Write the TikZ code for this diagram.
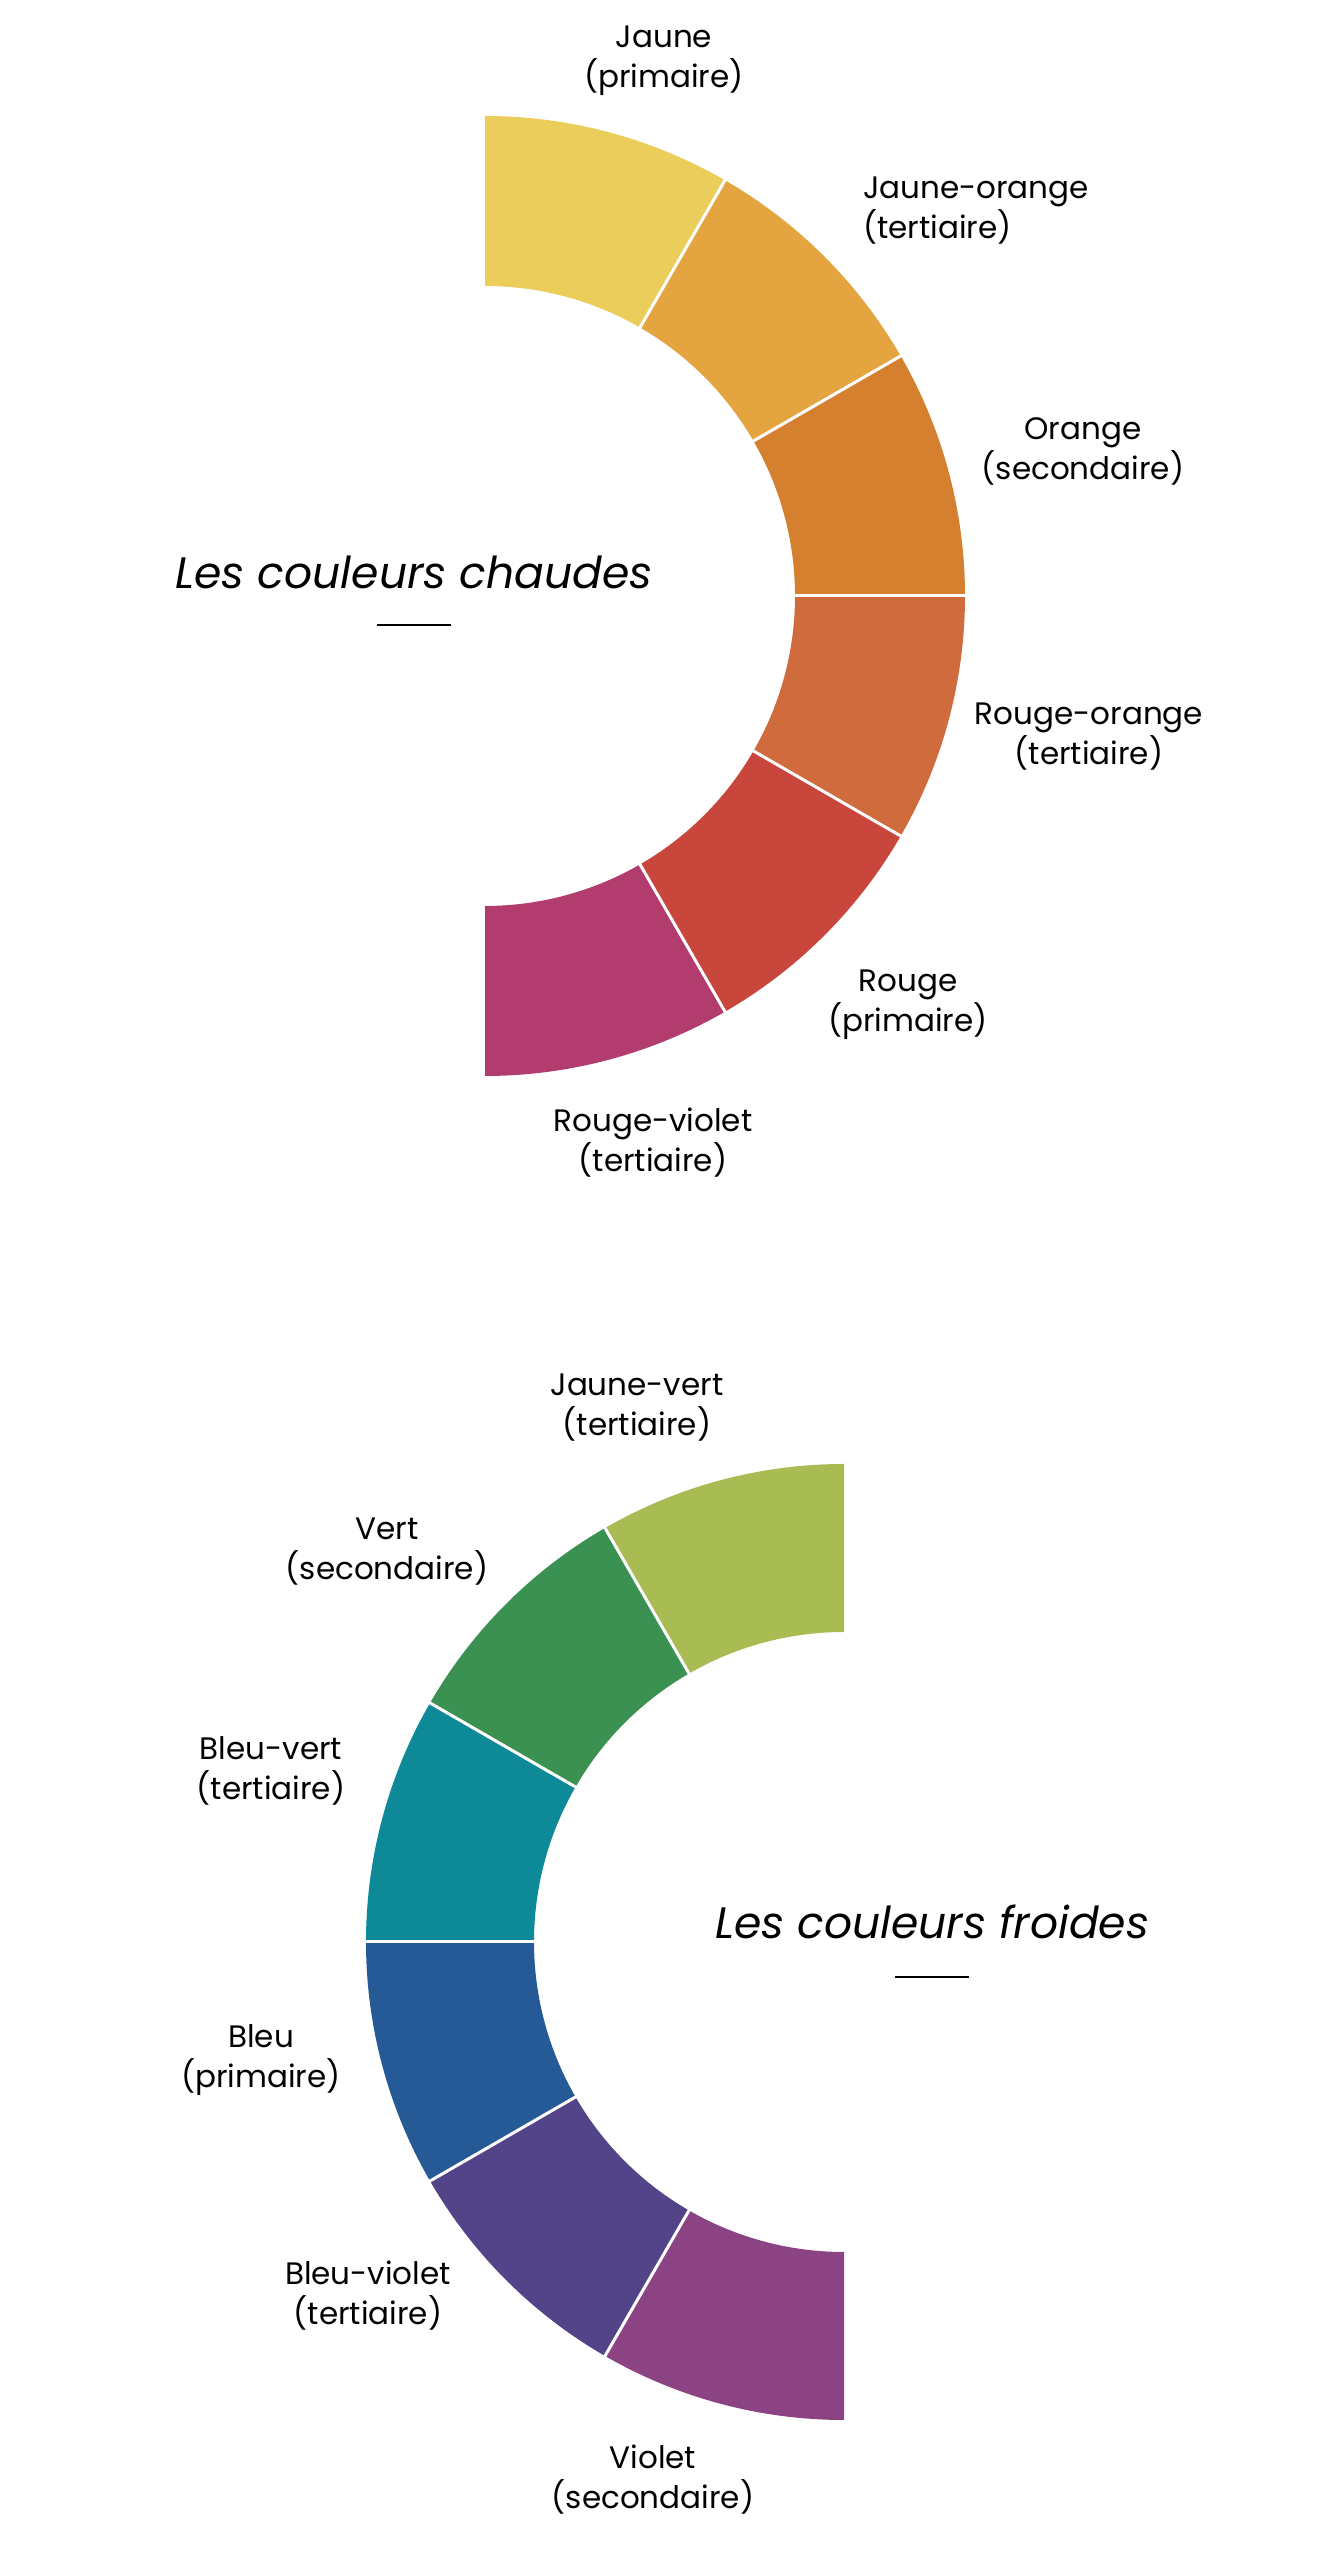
\documentclass[tikz,border=0pt]{standalone}
\usepackage{fontspec}
\setmainfont{Poppins}

\definecolor{jaune}{HTML}{EBCD5C}
\definecolor{jauneorange}{HTML}{E4A541}
\definecolor{orange}{HTML}{D5802E}
\definecolor{rougeorange}{HTML}{D06B3D}
\definecolor{rouge}{HTML}{C9463C}
\definecolor{rougeviolet}{HTML}{B23C6D}
\definecolor{jaunevert}{HTML}{A9BC54}
\definecolor{vert}{HTML}{3A9152}
\definecolor{bleuvert}{HTML}{0E8997}
\definecolor{bleu}{HTML}{265A97}
\definecolor{bleuviolet}{HTML}{534389}
\definecolor{violet}{HTML}{8C4383}

\begin{document}
\begin{tikzpicture}[x=1pt, y=1pt,
    etiquette/.style={align=center, font=\fontsize{31}{40}\selectfont, inner sep=0pt},
    titre/.style={anchor=base, font=\fontsize{44}{50}\selectfont\itshape, inner sep=0pt},
    trait/.style={black, line width=2.5pt}]
    \useasboundingbox[fill=white] (0,0) rectangle (1344,2560);

    % centres des deux demi-cercles
    \coordinate (chaud) at (485,1964);
    \coordinate (froid) at (844,618);

    % couleurs chaudes
    \foreach \a/\c in {90/jaune, 60/jauneorange, 30/orange, 0/rougeorange, -30/rouge, -60/rougeviolet}
      \fill[\c, shift={(chaud)}] (\a:480) arc[start angle=\a, end angle=\a-30, radius=480]
        -- (\a-30:310) arc[start angle=\a-30, end angle=\a, radius=310] -- cycle;
    \foreach \a in {60,30,0,-30,-60}
      \draw[white, line width=3pt, shift={(chaud)}] (\a:308) -- (\a:482);

    % couleurs froides
    \foreach \a/\c in {90/jaunevert, 120/vert, 150/bleuvert, 180/bleu, 210/bleuviolet, 240/violet}
      \fill[\c, shift={(froid)}] (\a:478) arc[start angle=\a, end angle=\a+30, radius=478]
        -- (\a+30:310) arc[start angle=\a+30, end angle=\a, radius=310] -- cycle;
    \foreach \a in {120,150,180,210,240}
      \draw[white, line width=3pt, shift={(froid)}] (\a:308) -- (\a:480);

    % etiquettes
    \node[etiquette] (jaune) at (664,2499) {Jaune\\(primaire)};
    \node[etiquette, align=left, anchor=west] (jauneorange) at (863,2349) {Jaune-orange\\(tertiaire)};
    \node[etiquette] (orange) at (1083,2109) {Orange\\(secondaire)};
    \node[etiquette] (rougeorange) at (1089,1823) {Rouge-orange\\(tertiaire)};
    \node[etiquette] (rouge) at (908,1555) {Rouge\\(primaire)};
    \node[etiquette] (rougeviolet) at (653,1417) {Rouge-violet\\(tertiaire)};

    \node[etiquette] (jaunevert) at (637,1152) {Jaune-vert\\(tertiaire)};
    \node[etiquette] (vert) at (387,1008) {Vert\\(secondaire)};
    \node[etiquette] (bleuvert) at (271,789) {Bleu-vert\\(tertiaire)};
    \node[etiquette] (bleu) at (261,500) {Bleu\\(primaire)};
    \node[etiquette] (bleuviolet) at (368,264) {Bleu-violet\\(tertiaire)};
    \node[etiquette] (violet) at (653,80) {Violet\\(secondaire)};

    % titres
    \node[titre] (chaudes) at (414,1971) {Les couleurs chaudes};
    \draw[trait] ([xshift=-37pt, yshift=-36pt]chaudes.base) -- ++(74,0);
    \node[titre] (froides) at (932,621) {Les couleurs froides};
    \draw[trait] ([xshift=-37pt, yshift=-38pt]froides.base) -- ++(74,0);
\end{tikzpicture}
\end{document}
